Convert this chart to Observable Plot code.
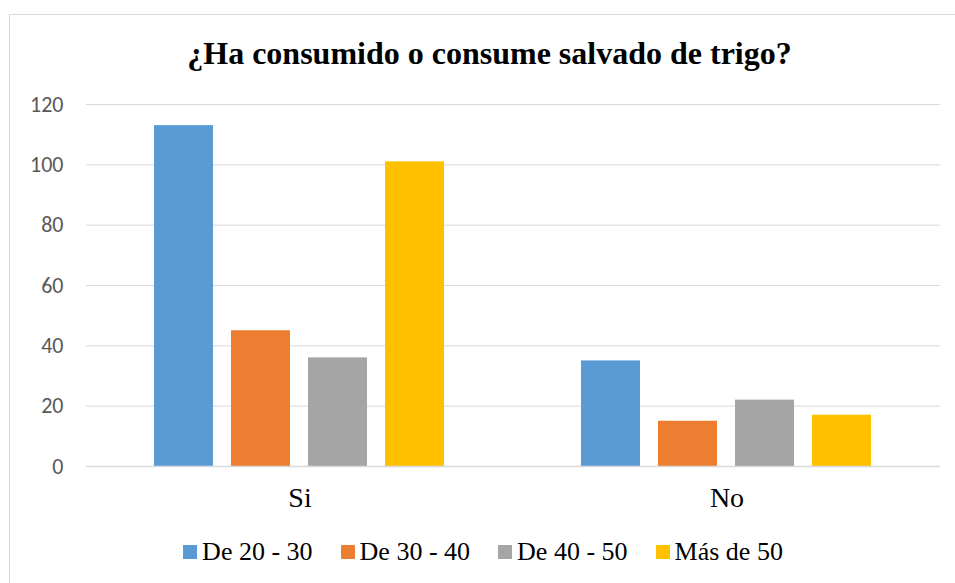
<!DOCTYPE html>
<html>
<head>
<meta charset="utf-8">
<script src="https://cdn.jsdelivr.net/npm/d3@7"></script>
<script src="https://cdn.jsdelivr.net/npm/@observablehq/plot@0.6"></script>
<style>
  html, body { margin: 0; padding: 0; background: #fff; }
  #wrap { position: relative; width: 955px; height: 583px; overflow: hidden; }
  #frame { position: absolute; left: 9px; top: 14px; width: 960px; height: 600px; border: 1px solid #d9d9d9; box-sizing: border-box; pointer-events: none; }
  #hdr { height: 80px; box-sizing: border-box; padding-left: 24px; padding-top: 35px; text-align: center;
         font-weight: bold; font-size: 32px; line-height: 37px; color: #000; white-space: nowrap; }
  #chart svg { display: block; }
  #key { display: flex; justify-content: center; align-items: center; gap: 28px; padding-left: 11px; height: 63px;
         font-size: 26px; color: #000; }
  .item { display: flex; align-items: center; gap: 5px; }
  .sw { width: 14px; height: 14px; display: inline-block; }
</style>
</head>
<body>
<div id="wrap">
  <div id="frame"></div>
  <div id="hdr" style="font-family:'Liberation Serif', Tinos, serif">¿Ha consumido o consume salvado de trigo?</div>
  <div id="chart"></div>
  <div id="key" style="font-family:'Liberation Serif', Tinos, serif"></div>
</div>
<script>
const answers = ["Si", "No"];
const ageGroups = ["De 20 - 30", "De 30 - 40", "De 40 - 50", "Más de 50"];
const colors = ["#5B9BD5", "#ED7D31", "#A5A5A5", "#FFC000"];
const siValues = [113, 45, 36, 101];
const noValues = [35, 15, 22, 17];
const yTicks = [0, 20, 40, 60, 80, 100, 120];

const data = [];
ageGroups.forEach((g, i) => {
  data.push({answer: "Si", age: g, value: siValues[i]});
  data.push({answer: "No", age: g, value: noValues[i]});
});

const marks = [
  Plot.ruleY(yTicks, {stroke: "#d9d9d9", strokeWidth: 1}),
  Plot.barY(data, {fx: "answer", x: "age", y: "value", fill: "age"}),
  Plot.ruleY([0], {stroke: "#d9d9d9", strokeWidth: 1.5}),
  Plot.axisY({ticks: yTicks, tickSize: 0, tickPadding: 23, label: null,
    fontFamily: "Carlito", fontSize: 22, fill: "#595959"}),
  Plot.axisFx({anchor: "bottom", tickSize: 0, tickPadding: 21, label: null,
    fontFamily: "Liberation Serif", fontSize: 28, fill: "#000"})
];

const plot = Plot.plot({
  width: 955,
  height: 440,
  marginLeft: 86,
  marginRight: 15,
  marginTop: 24,
  marginBottom: 54,
  fx: {domain: answers, padding: 0, label: null},
  x: {domain: ageGroups, paddingInner: 0.228, paddingOuter: 0.86, axis: null},
  y: {domain: [0, 120], label: null},
  color: {domain: ageGroups, range: colors},
  style: {background: "transparent", overflow: "visible"},
  marks
});
document.getElementById("chart").appendChild(plot);

const key = document.getElementById("key");
ageGroups.forEach((g, i) => {
  const item = document.createElement("div");
  item.className = "item";
  const sw = document.createElement("span");
  sw.className = "sw";
  sw.style.background = colors[i];
  const t = document.createElement("span");
  t.textContent = g;
  item.appendChild(sw);
  item.appendChild(t);
  key.appendChild(item);
});
</script>
</body>
</html>
